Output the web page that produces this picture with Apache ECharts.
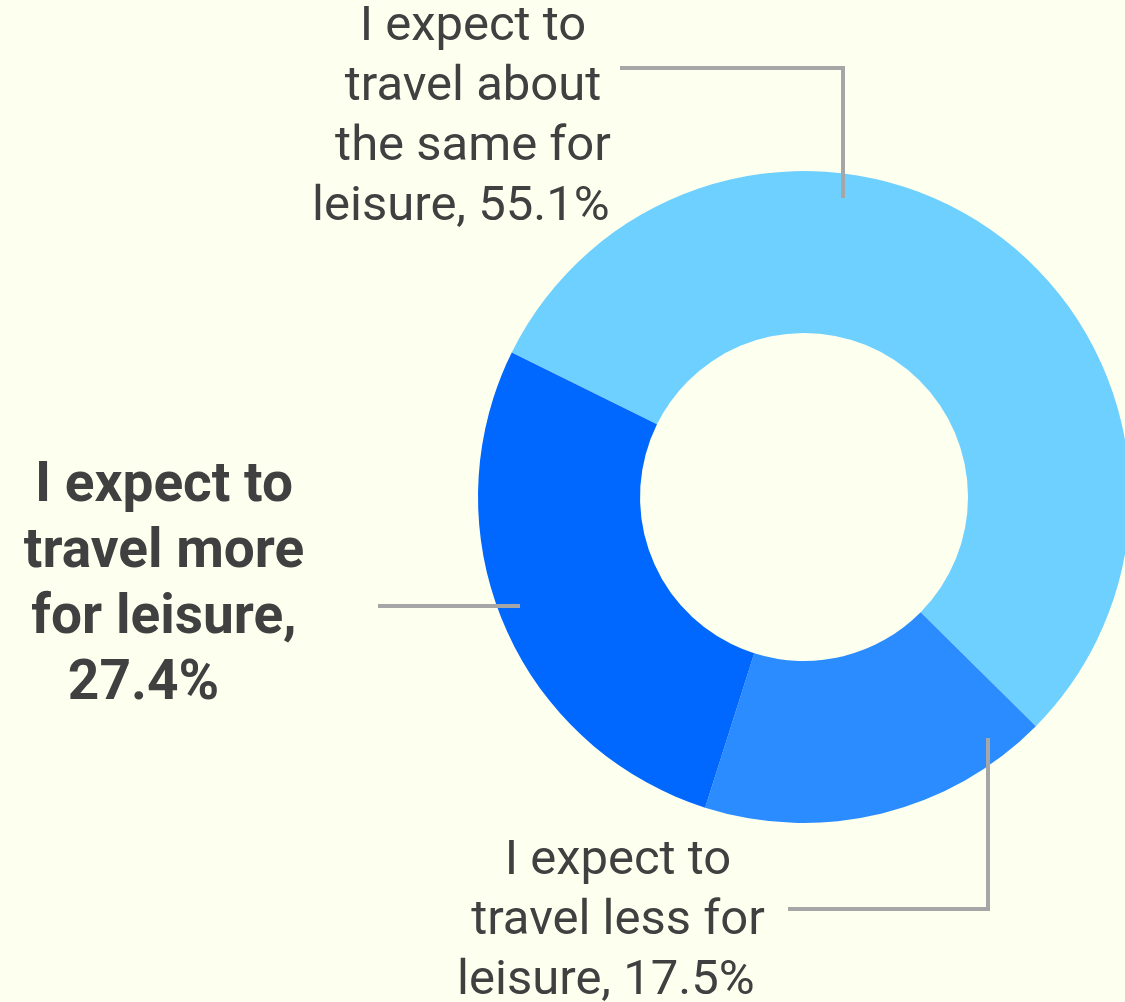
<!DOCTYPE html>
<html>
<head>
<meta charset="utf-8">
<script src="https://cdn.jsdelivr.net/npm/echarts@6/dist/echarts.min.js"></script>
<style>
html,body{margin:0;padding:0;background:#FDFFEF;}
#c{width:1125px;height:1002px;}
</style>
</head>
<body>
<div id="c"></div>
<script>
// Data
const categories = [
  "I expect to travel about the same for leisure",
  "I expect to travel less for leisure",
  "I expect to travel more for leisure"
];
const values = [55.1, 17.5, 27.4];
// label text as wrapped in the reference
const labelTexts = [
  "I expect to\ntravel about\nthe same for\nleisure, 55.1%  ",
  "I expect to\ntravel less for\nleisure, 17.5%  ",
  "I expect to\ntravel more\nfor leisure,\n27.4%   "
];
const colors = ["#6ED0FF", "#2A8CFF", "#0068FF"];

// label placement (layout, not data)
const labelLayouts = [
  {x: 473, y: 118, line: [[620, 68], [843, 68], [843, 198]]},
  {x: 618, y: 922, line: [[788, 909], [988, 909], [988, 738]]},
  {x: 164, y: 586, line: [[378, 606], [449, 606], [520, 606]]}
];

const pieBase = {
  type: 'pie',
  center: [804, 497],
  radius: [164, 326],
  startAngle: 153.7,
  clockwise: true,
  avoidLabelOverlap: false
};

const chart = echarts.init(document.getElementById('c'), null, {renderer: 'canvas'});
chart.setOption({
  backgroundColor: '#FDFFEF',
  animation: false,
  series: [
    Object.assign({}, pieBase, {
      z: 1,
      data: categories.map((c, i) => ({name: c, value: values[i], itemStyle: {color: colors[i]}})),
      label: {show: false},
      labelLine: {show: false}
    }),
    Object.assign({}, pieBase, {
      z: 5,
      silent: true,
      data: categories.map((c, i) => ({
        name: c,
        value: values[i],
        itemStyle: {color: 'rgba(0,0,0,0)'},
        label: i === 2 ? {fontSize: 55, fontWeight: 'bold', lineHeight: 66} : {}
      })),
      label: {
        show: true,
        position: 'outside',
        formatter: p => labelTexts[p.dataIndex],
        fontFamily: 'Roboto',
        fontSize: 49,
        lineHeight: 60,
        color: '#404040',
        align: 'center'
      },
      labelLine: {
        show: true,
        showAbove: true,
        lineStyle: {color: '#A6A6A6', width: 4, opacity: 1}
      },
      labelLayout: p => {
        const L = labelLayouts[p.dataIndex];
        return {x: L.x, y: L.y, align: 'center', verticalAlign: 'middle', labelLinePoints: L.line};
      }
    })
  ]
});
</script>
</body>
</html>
